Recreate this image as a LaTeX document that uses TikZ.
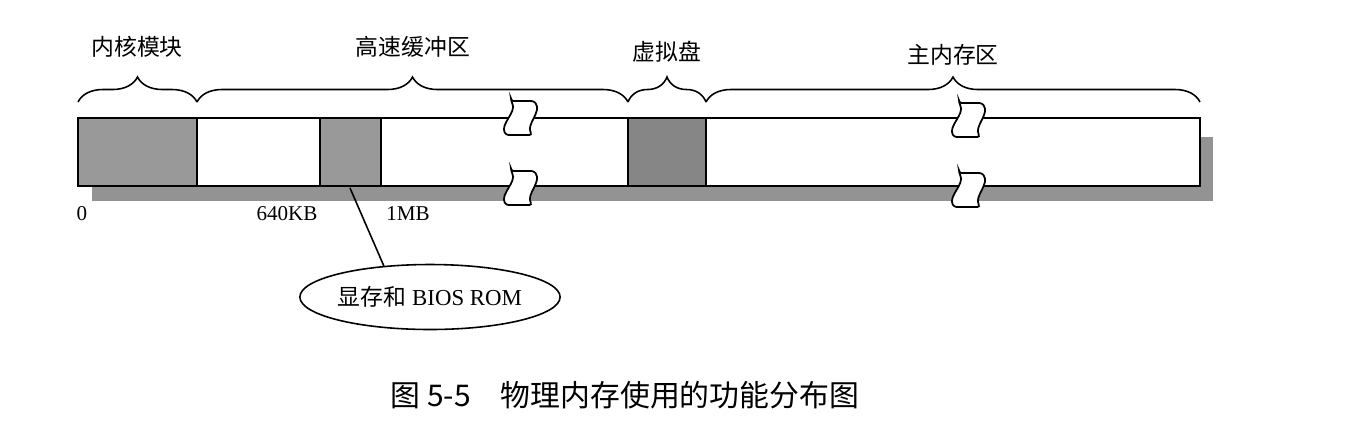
\documentclass[tikz,border=0pt]{standalone}
\usepackage{fontspec}
\setmainfont{Liberation Serif}
\newfontfamily\cjk{Noto Sans CJK SC}
\usetikzlibrary{decorations.pathreplacing,shapes.geometric}

\tikzset{
  blk/.style={draw, line width=1pt},
  grayblk/.style={blk, fill=gray!80},
  darkblk/.style={blk, fill=gray!95},
  shd/.style={fill=gray!85},
  brc/.style={decorate, line width=0.9pt, decoration={brace, amplitude=0.5cm}},
  lbl/.style={font=\cjk\fontsize{13}{15}\selectfont},
  num/.style={font=\fontsize{12}{14}\selectfont},
  brkmark/.pic={
    \draw[line width=1pt, fill=white, rounded corners=1.5pt]
      (-9,-17) -- (14,-17) .. controls (22,-6) and (6,6) .. (12,17)
      -- (-14,17) .. controls (-20,6) and (-3,-6) .. (-9,-17) -- cycle;
  }
}

\begin{document}
\begin{tikzpicture}[x=0.02cm, y=-0.02cm]
\useasboundingbox (0,0) rectangle (1368,424);
% shadow
\fill[shd] (92,186) rectangle (1213,201);
\fill[shd] (1200,137) rectangle (1213,201);
% memory bar
\draw[blk, fill=white] (78,118) rectangle (1200,186);
\draw[grayblk] (78,118) rectangle (197,186);
\draw[grayblk] (320,118) rectangle (381,186);
\draw[darkblk] (628,118) rectangle (706,186);
% breaks
\pic at (520,118) {brkmark};
\pic at (520,188) {brkmark};
\pic at (968,120) {brkmark};
\pic at (968,190) {brkmark};
% braces
\draw[brc] (78,102) -- (197,102);
\draw[brc] (197,102) -- (628,102);
\draw[brc] (628,102) -- (706,102);
\draw[brc] (706,102) -- (1200,102);
\node[lbl] (kern) at (137,47) {内核模块};
\node[lbl] (buf) at (413,47) {高速缓冲区};
\node[lbl] (vdisk) at (667,52) {虚拟盘};
\node[lbl] (mainmem) at (953,55) {主内存区};
% addresses
\node[num] (a0) at (82,214) {0};
\node[num] (a640) at (287,214) {640KB};
\node[num] (a1m) at (408,214) {1MB};
% callout
\node[draw, ellipse, line width=0.9pt, minimum width=5.2cm, minimum height=1.3cm, inner sep=0pt,
  font=\fontsize{13}{15}\selectfont] (rom) at (430,297) {{\cjk 显存和} BIOS ROM};
\coordinate (vga) at (350,188);
\draw[line width=0.9pt] (vga) -- (rom.146);
% caption
\node[font=\cjk\fontsize{17}{20}\selectfont] (cap) at (625,395) {图 5-5\quad 物理内存使用的功能分布图};
\end{tikzpicture}
\end{document}
